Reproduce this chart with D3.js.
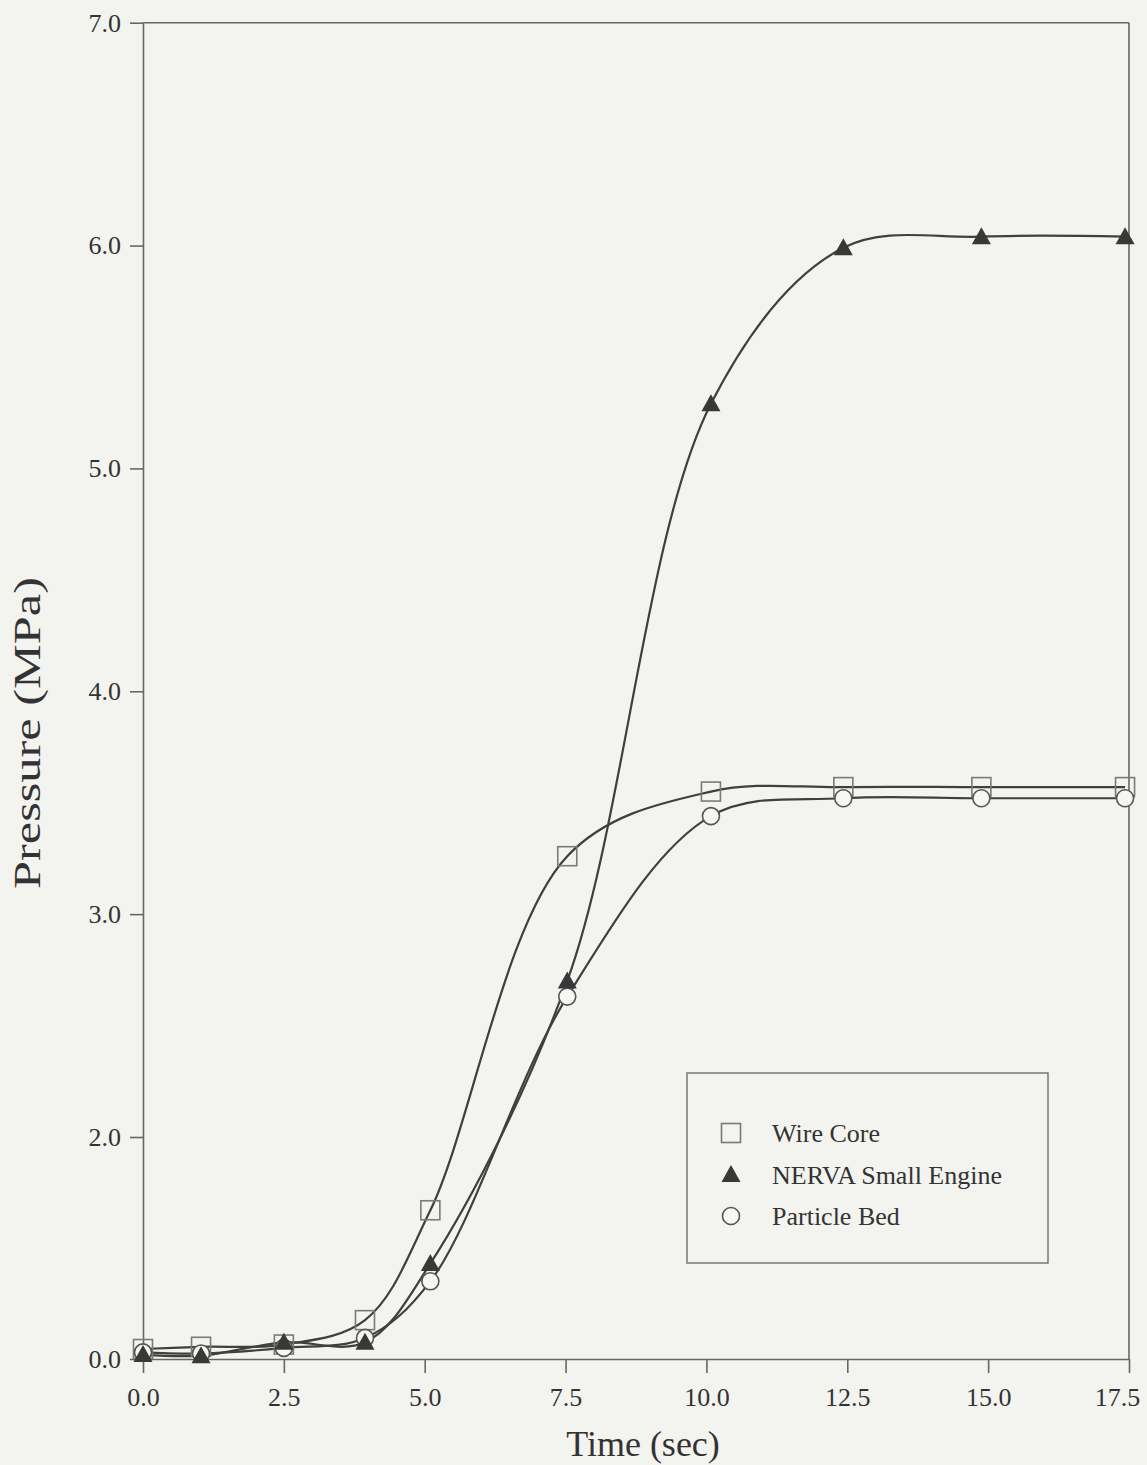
<!DOCTYPE html>
<html>
<head>
<meta charset="utf-8">
<script src="https://cdn.jsdelivr.net/npm/d3@7"></script>
<style>
  body { margin: 0; background: #f3f4ef; }
  text { font-family: "Liberation Serif", "Times New Roman", serif; fill: #333; }
</style>
</head>
<body>
<div id="chart-area"></div>
<script>
// values (y labels skip 1.0 in the original)
var times = [0, 1.03, 2.5, 3.94, 5.1, 7.53, 10.08, 12.43, 14.88, 17.43];
var wireCore = [0.09, 0.11, 0.13, 0.35, 1.34, 3.26, 3.55, 3.57, 3.57, 3.57];
var nerva = [0.04, 0.03, 0.15, 0.15, 0.86, 2.70, 5.29, 5.99, 6.04, 6.04];
var particleBed = [0.06, 0.05, 0.10, 0.19, 0.70, 2.63, 3.44, 3.52, 3.52, 3.52];
var xTicks = [0, 2.5, 5, 7.5, 10, 12.5, 15, 17.5];
var yTicks = [0, 2, 3, 4, 5, 6, 7];
var seriesNames = ["Wire Core", "NERVA Small Engine", "Particle Bed"];

var width = 1147;
var height = 1465;
var svg = d3.select("#chart-area").append("svg")
    .attr("width", width)
    .attr("height", height);

var x = d3.scaleLinear()
    .domain([0, 17.5])
    .range([143, 1129]);

// the printed axis has 0.0 then 2.0 one step apart
var y = d3.scaleLinear()
    .domain([0, 2, 7])
    .range([1359, 1137, 22.7]);

var axisColor = "#666";

var bottomAxis = d3.axisBottom(x)
    .tickValues(xTicks)
    .tickSize(14)
    .tickSizeOuter(0)
    .tickPadding(15)
    .tickFormat(d3.format(".1f"));
var gx = svg.append("g")
    .attr("class", "bottom axis")
    .attr("transform", "translate(0," + y(0) + ")")
    .call(bottomAxis);
gx.selectAll("text")
    .attr("font-size", "26px")
    .attr("font-family", "Liberation Serif")
    .attr("fill", "#333")
    .attr("dx", (d) => d == 17.5 ? -12 : 0);

var leftAxis = d3.axisLeft(y)
    .tickValues(yTicks)
    .tickSize(13)
    .tickSizeOuter(0)
    .tickPadding(9)
    .tickFormat(d3.format(".1f"));
var gy = svg.append("g")
    .attr("class", "left axis")
    .attr("transform", "translate(" + x(0) + ",0)")
    .call(leftAxis);
gy.selectAll("text")
    .attr("font-size", "26px")
    .attr("font-family", "Liberation Serif")
    .attr("fill", "#333");

svg.selectAll(".axis path, .axis line")
    .attr("stroke", axisColor)
    .attr("stroke-width", 1.6);

// frame top and right
svg.append("line")
    .attr("x1", x(0)).attr("x2", x(17.5))
    .attr("y1", y(7)).attr("y2", y(7))
    .attr("stroke", axisColor).attr("stroke-width", 1.6);
svg.append("line")
    .attr("x1", x(17.5)).attr("x2", x(17.5))
    .attr("y1", y(7)).attr("y2", y(0))
    .attr("stroke", axisColor).attr("stroke-width", 1.6);

var line = d3.line()
    .x((d) => x(d[0]))
    .y((d) => y(d[1]))
    .curve(d3.curveCatmullRom.alpha(0.5));

var series = [wireCore, nerva, particleBed].map((vals) => times.map((t, i) => [t, vals[i]]));

series.forEach((s) => {
    svg.append("path")
        .datum(s)
        .attr("d", line)
        .attr("fill", "none")
        .attr("stroke", "#3f3f3f")
        .attr("stroke-width", 2.2);
});

function square(g, cx, cy) {
    g.append("rect")
        .attr("x", cx - 9.5).attr("y", cy - 9.5)
        .attr("width", 19).attr("height", 19)
        .attr("fill", "none")
        .attr("stroke", "#7a7a7a")
        .attr("stroke-width", 1.6);
}
function circle(g, cx, cy) {
    g.append("circle")
        .attr("cx", cx).attr("cy", cy).attr("r", 8.5)
        .attr("fill", "#f6f7f2")
        .attr("stroke", "#555")
        .attr("stroke-width", 1.6);
}
function triangle(g, cx, cy) {
    g.append("path")
        .attr("d", "M" + cx + "," + (cy - 9.5) + "L" + (cx + 9.5) + "," + (cy + 7.5) + "L" + (cx - 9.5) + "," + (cy + 7.5) + "Z")
        .attr("fill", "#383838");
}

var marks = svg.append("g");
series[0].forEach((d) => square(marks, x(d[0]), y(d[1])));
series[2].forEach((d) => circle(marks, x(d[0]), y(d[1])));
series[1].forEach((d) => triangle(marks, x(d[0]), y(d[1])));

// legend
var lg = svg.append("g");
lg.append("rect")
    .attr("x", 687).attr("y", 1073)
    .attr("width", 361).attr("height", 190)
    .attr("fill", "none")
    .attr("stroke", "#777")
    .attr("stroke-width", 1.5);
var legendDraw = [square, triangle, circle];
seriesNames.forEach((name, i) => {
    var cy = 1133 + i * 41.5;
    legendDraw[i](lg, 731, cy);
    lg.append("text")
        .attr("x", 772)
        .attr("y", cy + 9)
        .attr("font-size", "26px")
        .text(name);
});

svg.append("text")
    .attr("x", 643)
    .attr("y", 1456)
    .attr("font-size", "36px")
    .attr("text-anchor", "middle")
    .text("Time (sec)");

svg.append("text")
    .attr("transform", "translate(40,733) rotate(-90)")
    .attr("font-size", "38px")
    .attr("text-anchor", "middle")
    .attr("textLength", 312)
    .attr("lengthAdjust", "spacingAndGlyphs")
    .text("Pressure (MPa)");
</script>
</body>
</html>
